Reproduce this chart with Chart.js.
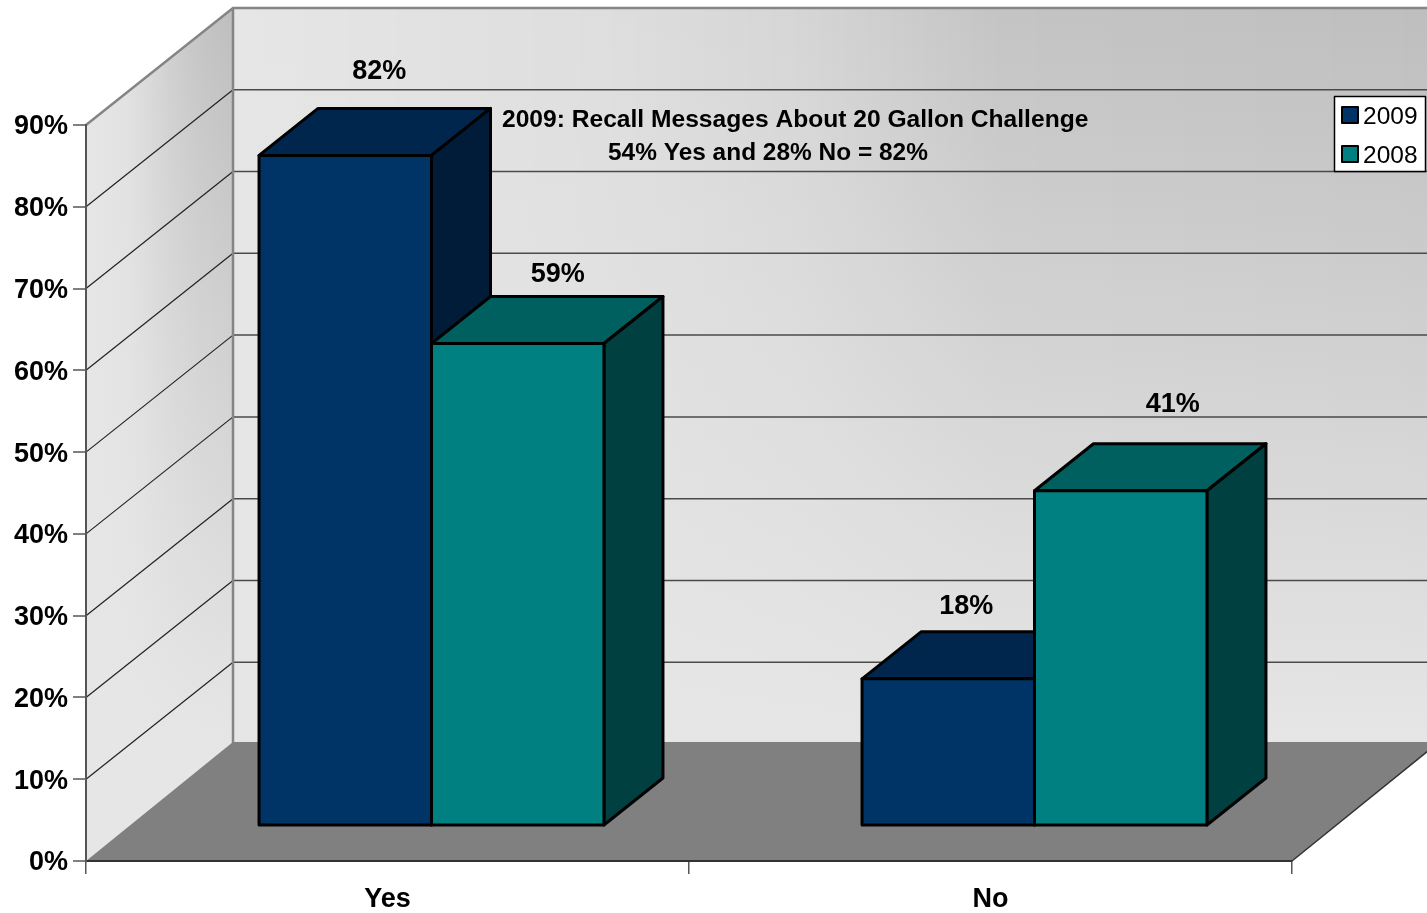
<!DOCTYPE html>
<html lang="en">
<head>
    <meta charset="UTF-8">
    <title>Recall Messages About 20 Gallon Challenge</title>
    <script src="https://cdn.jsdelivr.net/npm/chart.js"></script>
    <style>
        body { margin: 0; background: #fff; }
        canvas { display: block; }
    </style>
</head>
<body>
    <canvas id="chart" width="1427" height="913"></canvas>

    <script>
        const categories = ['Yes', 'No'];
        const years = ['2009', '2008'];
        const values2009 = [82, 18];
        const values2008 = [59, 41];
        const note = ['2009: Recall Messages About 20 Gallon Challenge', '54% Yes and 28% No = 82%'];

        const font = 'Liberation Sans, Arial, sans-serif';
        const front = ['#003366', '#008080'];
        const top3d = ['#00264d', '#006060'];
        const side = ['#001c38', '#004040'];

        // depth of the box, of the gap in front of the bars, and of the bars themselves
        const wall = { x: 147, y: 117 };
        const gap = { x: 44, y: 35 };
        const depth = { x: 59, y: 47 };

        // the data labels were placed by hand in the original, [dx, dy] from the bar's top centre
        const labelNudge = [[[34, -84], [18, -72]], [[40, -69], [52, -86]]];

        // how far each wall has darkened going left to right, [x, amount]
        const leftShade = [[86, 0], [130, 0.15], [170, 0.6], [200, 0.85], [233, 1]];
        const backShade = [[233, 0], [600, 0.2], [800, 0.42], [1000, 0.85], [1439, 1]];

        function poly(ctx, pts, fill, stroke, lw) {
            ctx.beginPath();
            pts.forEach((p, i) => i ? ctx.lineTo(p[0], p[1]) : ctx.moveTo(p[0], p[1]));
            ctx.closePath();
            if (fill) { ctx.fillStyle = fill; ctx.fill(); }
            if (stroke) { ctx.strokeStyle = stroke; ctx.lineWidth = lw; ctx.lineJoin = 'round'; ctx.stroke(); }
        }

        function amount(stops, x) {
            for (let i = 1; i < stops.length; i++) {
                if (x <= stops[i][0]) {
                    const a = stops[i - 1], b = stops[i];
                    return a[1] + (b[1] - a[1]) * (x - a[0]) / (b[0] - a[0]);
                }
            }
            return 1;
        }

        // walls go dark toward the top right and stay light along the floor
        function shadeWall(ctx, pts, stops, yTop, yBottom, yEnd) {
            ctx.save();
            poly(ctx, pts);
            ctx.clip();
            const x0 = stops[0][0], x1 = stops[stops.length - 1][0];
            for (let x = x0; x < x1; x += 2) {
                const c = Math.round(230 - 40 * amount(stops, x));
                const g = ctx.createLinearGradient(0, yTop, 0, yBottom);
                g.addColorStop(0, `rgb(${c},${c},${c})`);
                g.addColorStop(1, '#e6e6e6');
                ctx.fillStyle = g;
                ctx.fillRect(x, yTop, 2.5, yEnd - yTop);
            }
            ctx.restore();
        }

        const box3d = {
            id: 'box3d',
            beforeDraw(chart) {
                const { ctx, chartArea: a, scales } = chart;
                const y = scales.y;
                const L = a.left, R = a.right, T = a.top, B = a.bottom;
                const bx = L + wall.x;
                const backTop = T - wall.y, backBottom = B - wall.y;

                shadeWall(ctx, [[L, T], [bx, backTop], [bx, backBottom], [L, B]], leftShade, backTop, backBottom, B);
                shadeWall(ctx, [[bx, backTop], [R + wall.x, backTop], [R + wall.x, backBottom], [bx, backBottom]], backShade, backTop, backBottom, backBottom);

                // gridlines run along both walls
                y.ticks.forEach(t => {
                    if (t.value === 0 || t.value === 90) return;
                    const py = y.getPixelForValue(t.value);
                    ctx.beginPath();
                    ctx.moveTo(L, py);
                    ctx.lineTo(bx, py - wall.y);
                    ctx.lineWidth = 1.2;
                    ctx.strokeStyle = '#222';
                    ctx.stroke();
                    ctx.beginPath();
                    ctx.moveTo(bx, py - wall.y);
                    ctx.lineTo(R + wall.x, py - wall.y);
                    ctx.lineWidth = 1.5;
                    ctx.strokeStyle = '#4a4a4a';
                    ctx.stroke();
                });

                // wall outline
                ctx.beginPath();
                ctx.moveTo(L, T);
                ctx.lineTo(bx, backTop);
                ctx.lineTo(R + wall.x, backTop);
                ctx.moveTo(bx, backTop);
                ctx.lineTo(bx, backBottom);
                ctx.lineWidth = 2.5;
                ctx.strokeStyle = '#858585';
                ctx.stroke();

                // the floor sits a touch higher than the walls' lower edge
                poly(ctx, [[L, B], [R, B], [R + wall.x, B - 119], [bx, B - 119]], '#808080');
                ctx.beginPath();
                ctx.moveTo(R, B);
                ctx.lineTo(R + wall.x, B - 119);
                ctx.lineWidth = 1.5;
                ctx.strokeStyle = '#333';
                ctx.stroke();
            },
            beforeDatasetsDraw(chart) {
                const ctx = chart.ctx;
                // tops and sides first, the library paints the front faces over them
                chart.data.datasets.forEach((ds, i) => {
                    chart.getDatasetMeta(i).data.forEach(el => {
                        const x0 = el.x - el.width / 2 + gap.x, x1 = el.x + el.width / 2 + gap.x;
                        const yt = el.y - gap.y, yb = el.base - gap.y;
                        poly(ctx, [[x0, yt], [x1, yt], [x1 + depth.x, yt - depth.y], [x0 + depth.x, yt - depth.y]], top3d[i], '#000', 3);
                        poly(ctx, [[x1, yt], [x1 + depth.x, yt - depth.y], [x1 + depth.x, yb - depth.y], [x1, yb]], side[i], '#000', 3);
                    });
                });
                ctx.save();
                ctx.translate(gap.x, -gap.y);
            },
            afterDatasetsDraw(chart) {
                const ctx = chart.ctx;
                ctx.restore();

                ctx.textAlign = 'center';
                ctx.textBaseline = 'middle';
                ctx.font = 'bold 27px ' + font;
                chart.data.datasets.forEach((ds, i) => {
                    chart.getDatasetMeta(i).data.forEach((el, j) => {
                        // outline of the front face, centred on its edge
                        const x0 = el.x - el.width / 2 + gap.x;
                        ctx.lineWidth = 3;
                        ctx.strokeStyle = '#000';
                        ctx.strokeRect(x0, el.y - gap.y, el.width, el.base - el.y);

                        const n = labelNudge[i][j];
                        ctx.fillStyle = '#000';
                        ctx.fillText(ds.data[j] + '%', el.x + gap.x + n[0], el.y - gap.y + n[1]);
                    });
                });
            },
            afterDraw(chart) {
                const ctx = chart.ctx;

                // note next to the tall bar
                ctx.fillStyle = '#000';
                ctx.textBaseline = 'alphabetic';
                ctx.textAlign = 'left';
                ctx.font = 'bold 24.6px ' + font;
                ctx.fillText(note[0], 502, 127);
                ctx.font = 'bold 24.45px ' + font;
                ctx.fillText(note[1], 608, 160);

                // legend
                ctx.fillStyle = '#fff';
                ctx.fillRect(1334.5, 96.5, 91, 75);
                ctx.strokeStyle = '#000';
                ctx.lineWidth = 1.5;
                ctx.strokeRect(1334.5, 96.5, 91, 75);
                ctx.font = '24.5px ' + font;
                years.forEach((yr, i) => {
                    const ly = 107 + i * 39;
                    ctx.fillStyle = front[i];
                    ctx.fillRect(1342, ly, 16, 16);
                    ctx.strokeStyle = '#000';
                    ctx.lineWidth = 2;
                    ctx.strokeRect(1342, ly, 16, 16);
                    ctx.fillStyle = '#000';
                    ctx.fillText(yr, 1363, ly + 17);
                });
            }
        };

        new Chart(document.getElementById('chart'), {
            type: 'bar',
            data: {
                labels: categories,
                datasets: [
                    { label: years[0], data: values2009, backgroundColor: front[0], borderWidth: 0, clip: false },
                    { label: years[1], data: values2008, backgroundColor: front[1], borderWidth: 0, clip: false }
                ]
            },
            options: {
                responsive: false,
                animation: false,
                layout: { padding: { top: 125, right: 135 } },
                categoryPercentage: 0.572,
                barPercentage: 1,
                plugins: { legend: { display: false }, tooltip: { enabled: false } },
                scales: {
                    x: {
                        afterFit: s => { s.height = 52; },
                        grid: { drawOnChartArea: false, tickLength: 13, color: '#555', lineWidth: 1.5 },
                        border: { color: '#333', width: 2 },
                        ticks: { color: '#000', padding: 9, font: { family: font, size: 27, weight: 'bold' } }
                    },
                    y: {
                        min: 0,
                        max: 90,
                        afterFit: s => { s.width = 86; },
                        grid: { drawOnChartArea: false, tickLength: 13, color: '#808080', lineWidth: 2 },
                        border: { color: '#555', width: 2 },
                        ticks: { stepSize: 10, color: '#000', padding: 5, labelOffset: 2, callback: v => v + '%', font: { family: font, size: 27, weight: 'bold' } }
                    }
                }
            },
            plugins: [box3d]
        });
    </script>
</body>
</html>
